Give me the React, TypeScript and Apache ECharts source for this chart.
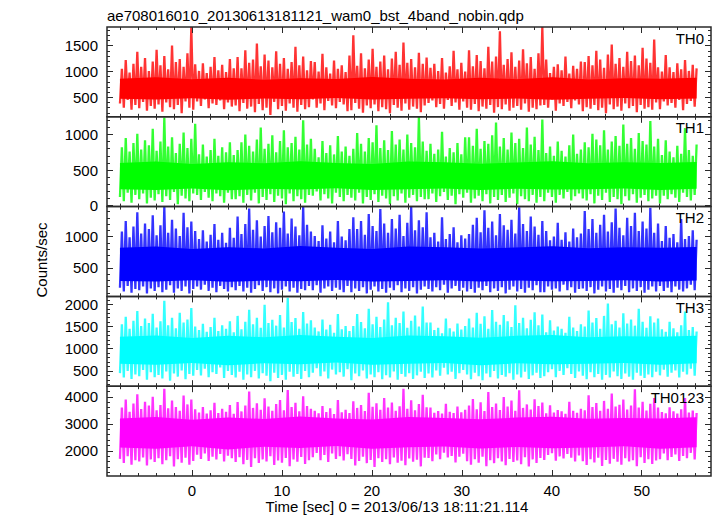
import React, { useEffect, useRef } from "react";
import * as echarts from "echarts";

const TITLE = "ae708016010_20130613181121_wam0_bst_4band_nobin.qdp";
const X_TITLE = "Time [sec] 0 = 2013/06/13 18:11:21.114";
const Y_TITLE = "Counts/sec";
const FONT = '"Liberation Sans", Arial, Helvetica, sans-serif';

const T_START = -8.0;
const T_END = 56.1;
const X_MIN = -9.44;
const X_MAX = 57.7;
const X_MAJOR = [0, 10, 20, 30, 40, 50];
const X_MINOR = [-8, -6, -4, -2, 0, 2, 4, 6, 8, 10, 12, 14, 16, 18, 20, 22, 24, 26, 28, 30, 32, 34, 36, 38, 40, 42, 44, 46, 48, 50, 52, 54, 56];

const NAMES = ["TH0", "TH1", "TH2", "TH3", "TH0123"];
const COLORS = ["#ff0000", "#00ff00", "#0000ff", "#00ffff", "#ff00ff"];
const Y_MIN = [122, -15, 42, 155, 1063];
const Y_MAX = [1861, 1250, 1480, 2180, 4396];
const Y_MAJOR = [
  [500, 1000, 1500],
  [0, 500, 1000],
  [500, 1000],
  [500, 1000, 1500, 2000],
  [2000, 3000, 4000],
];
const Y_MINOR_STEP = [100, 100, 100, 100, 200];

// Light-curve samples (alternating low / high excursions of the binned rates)
const TH0 = [
  380, 1050, 300, 1220, 450, 980, 260, 1150, 350, 1380, 290, 1090, 410, 1260, 240, 1010, 330, 1190, 280, 1420,
  360, 1120, 220, 1300, 400, 1040, 310, 1500, 270, 1180, 350, 1240, 190, 1090, 420, 1350, 300, 1860, 260, 1140,
  420, 1010, 330, 1160, 460, 970, 290, 1090, 380, 1280, 350, 1020, 440, 1130, 270, 990, 400, 1240, 320, 1060,
  340, 1280, 230, 1060, 390, 1410, 280, 1170, 320, 1230, 210, 1540, 370, 1100, 250, 1330, 300, 1210, 160, 1080,
  410, 1390, 270, 1150, 330, 1260, 240, 1050, 380, 1180, 300, 1480, 220, 1120, 350, 1290, 270, 1020, 310, 1200,
  460, 1180, 300, 1000, 380, 1340, 250, 1080, 430, 960, 340, 1210, 290, 1050, 410, 1120, 360, 990, 230, 1310,
  250, 1700, 390, 1110, 280, 1350, 200, 1060, 340, 1230, 290, 1440, 360, 1090, 230, 1190, 310, 1310, 270, 1040,
  190, 1250, 350, 1380, 300, 1130, 240, 1560, 380, 1170, 260, 1240, 320, 1080, 280, 1360, 210, 1150, 340, 1270,
  390, 1070, 440, 1150, 310, 1010, 370, 1260, 280, 980, 450, 1100, 330, 1400, 400, 1040, 260, 1170, 420, 1000,
  300, 1410, 260, 1100, 370, 1320, 230, 1200, 320, 1060, 280, 1480, 350, 1190, 200, 1290, 310, 1780, 270, 1130,
  360, 1240, 240, 1370, 300, 1090, 330, 1210, 260, 1430, 380, 1160, 220, 1280, 300, 1050, 270, 1350, 340, 1860,
  350, 1230, 300, 970, 460, 1090, 240, 1140, 380, 1020, 330, 1290, 410, 960, 290, 1110, 440, 1050, 360, 1190,
  230, 1180, 310, 1300, 280, 1120, 350, 1400, 250, 1230, 300, 1070, 190, 1330, 360, 1520, 270, 1150, 320, 1260,
  240, 1090, 380, 1380, 290, 1200, 330, 1310, 210, 1120, 350, 1460, 280, 1250, 310, 1170, 260, 1620, 400, 1080,
  270, 1000, 420, 1320, 340, 1080, 390, 990, 300, 1160, 450, 1040, 250, 1220, 370, 1010, 430, 1130, 320, 1060,
];
const TH1 = [
  120, 820, 60, 950, 180, 760, 40, 880, 150, 1010, 90, 790, 170, 920, 30, 850, 110, 1080, 70, 770,
  160, 900, 50, 1240, 130, 830, 80, 960, 190, 740, 20, 870, 140, 1030, 100, 810, 60, 940, 170, 1150,
  150, 720, 80, 860, 190, 690, 110, 780, 60, 940, 170, 700, 130, 820, 40, 750, 180, 890, 90, 710,
  90, 780, 130, 890, 40, 1000, 150, 840, 70, 760, 180, 930, 30, 1100, 120, 800, 80, 870, 160, 990,
  50, 750, 140, 910, 100, 1060, 20, 820, 170, 880, 60, 970, 130, 790, 90, 1200, 40, 860, 150, 940,
  140, 800, 200, 680, 70, 910, 160, 740, 100, 850, 30, 720, 180, 980, 120, 760, 60, 830, 150, 700,
  110, 800, 70, 1020, 180, 870, 30, 760, 120, 950, 80, 890, 160, 1130, 50, 810, 140, 920, 100, 780,
  20, 1050, 130, 860, 70, 930, 170, 790, 40, 1000, 110, 880, 150, 820, 60, 1250, 120, 900, 90, 770,
  90, 870, 170, 730, 50, 790, 130, 1040, 190, 690, 80, 810, 140, 750, 20, 880, 160, 720, 110, 960,
  180, 960, 40, 840, 100, 1080, 140, 800, 60, 910, 160, 870, 30, 990, 120, 1170, 80, 830, 150, 950,
  50, 790, 110, 1030, 170, 880, 20, 940, 130, 810, 90, 1100, 60, 860, 150, 970, 40, 780, 120, 1210,
  60, 740, 180, 830, 120, 700, 40, 900, 150, 770, 100, 690, 190, 850, 70, 1000, 130, 730, 170, 790,
  100, 890, 70, 820, 160, 1010, 30, 930, 140, 850, 80, 1060, 180, 790, 50, 900, 120, 980, 90, 840,
  20, 1140, 130, 870, 70, 950, 160, 800, 40, 1020, 110, 910, 150, 860, 60, 1190, 100, 830, 140, 940,
  30, 710, 140, 920, 90, 760, 160, 680, 110, 840, 50, 730, 180, 1090, 120, 780, 70, 700, 150, 860,
];
const TH2 = [
  180, 1080, 120, 1250, 210, 990, 100, 1160, 160, 1390, 140, 1050, 200, 1210, 90, 1120, 170, 1340, 130, 1020,
  190, 1180, 110, 1480, 150, 1060, 220, 1270, 100, 1130, 170, 1010, 130, 1380, 200, 1150, 90, 1240, 160, 1090,
  200, 960, 150, 1100, 230, 920, 130, 1030, 180, 1200, 110, 950, 210, 1060, 160, 900, 120, 1140, 190, 980,
  140, 1320, 210, 1040, 120, 1200, 180, 1450, 100, 1110, 160, 1260, 220, 1000, 130, 1170, 190, 1330, 110, 1070,
  170, 1230, 90, 1140, 150, 1400, 200, 1050, 120, 1290, 180, 1160, 100, 1020, 160, 1480, 140, 1190, 210, 1080,
  140, 1010, 220, 930, 100, 1180, 170, 970, 200, 1080, 130, 910, 180, 1250, 150, 1000, 110, 940, 210, 1120,
  110, 1310, 170, 1120, 130, 1250, 190, 1030, 90, 1360, 150, 1170, 200, 1090, 120, 1440, 160, 1210, 100, 1060,
  180, 1280, 140, 1130, 220, 1350, 110, 1010, 170, 1220, 130, 1480, 190, 1100, 90, 1260, 150, 1150, 200, 1390,
  160, 990, 120, 1060, 190, 920, 140, 1310, 230, 960, 100, 1040, 170, 1150, 210, 910, 130, 1020, 180, 970,
  120, 1040, 160, 1190, 100, 1300, 180, 1070, 140, 1420, 210, 1140, 110, 1240, 170, 1020, 130, 1360, 190, 1180,
  90, 1110, 150, 1270, 200, 1050, 120, 1470, 160, 1200, 100, 1090, 180, 1320, 140, 1160, 220, 1030, 110, 1250,
  110, 1090, 200, 940, 150, 1000, 170, 1220, 120, 950, 230, 1070, 140, 920, 190, 1130, 100, 990, 160, 1050,
  170, 1410, 130, 1120, 190, 1280, 90, 1060, 150, 1190, 200, 1350, 120, 1080, 160, 1230, 100, 1450, 180, 1140,
  140, 1020, 210, 1300, 110, 1170, 170, 1380, 130, 1090, 190, 1240, 100, 1130, 150, 1460, 200, 1060, 120, 1210,
  210, 930, 130, 1170, 180, 980, 110, 1040, 200, 910, 150, 1280, 120, 960, 170, 1010, 230, 1100, 140, 950,
];
const TH3 = [
  450, 1550, 350, 1720, 500, 1450, 320, 1630, 420, 1850, 380, 1510, 520, 1680, 300, 1580, 470, 1790, 360, 1480,
  410, 1620, 330, 2080, 490, 1530, 280, 1700, 440, 1460, 370, 1810, 510, 1590, 310, 1660, 430, 1920, 390, 1500,
  520, 1420, 400, 1560, 550, 1380, 360, 1490, 470, 1700, 430, 1400, 580, 1530, 340, 1450, 500, 1620, 410, 1370,
  350, 1740, 480, 1440, 300, 1610, 420, 1880, 360, 1550, 500, 1700, 330, 1470, 450, 1990, 390, 1580, 270, 1650,
  460, 1520, 340, 1760, 410, 1480, 300, 2150, 480, 1600, 370, 1690, 430, 1450, 320, 1830, 500, 1570, 360, 1640,
  460, 1480, 560, 1390, 380, 1660, 490, 1430, 330, 1540, 530, 1360, 420, 1780, 470, 1440, 370, 1510, 540, 1400,
  290, 1510, 440, 1780, 380, 1600, 510, 1460, 330, 1900, 420, 1550, 360, 1720, 470, 1490, 310, 1660, 400, 2050,
  350, 1530, 490, 1700, 300, 1580, 430, 1840, 370, 1470, 450, 1630, 320, 1750, 400, 1500, 480, 1950, 340, 1590,
  440, 1590, 350, 1420, 510, 1470, 390, 1350, 570, 1680, 420, 1460, 480, 1390, 320, 1570, 450, 1430, 520, 1510,
  420, 1680, 310, 1480, 460, 1810, 380, 1560, 290, 1730, 440, 1450, 360, 1870, 500, 1610, 330, 1540, 410, 1760,
  370, 1620, 450, 1490, 300, 1980, 420, 1580, 350, 1700, 480, 1460, 320, 1650, 400, 1820, 460, 1530, 340, 1770,
  380, 1370, 470, 1640, 540, 1410, 360, 1500, 500, 1450, 410, 1360, 560, 1720, 430, 1480, 340, 1400, 490, 1550,
  390, 1500, 310, 1860, 470, 1590, 360, 1690, 430, 1450, 300, 1740, 410, 2020, 350, 1550, 490, 1630, 380, 1480,
  320, 1800, 440, 1570, 370, 1660, 300, 1520, 460, 1900, 390, 1610, 340, 1470, 420, 1730, 360, 1590, 480, 1680,
  400, 1440, 530, 1380, 370, 1610, 460, 1460, 510, 1370, 350, 1530, 480, 1840, 420, 1420, 550, 1490, 390, 1390,
];
const TH0123 = [
  1700, 3600, 1550, 3900, 1800, 3450, 1480, 3750, 1650, 4100, 1600, 3550, 1750, 3820, 1450, 3680, 1680, 4000, 1580, 3500,
  1720, 3700, 1500, 4300, 1650, 3580, 1800, 3860, 1420, 3620, 1690, 3480, 1560, 4050, 1740, 3720, 1480, 3900, 1620, 3540,
  1850, 3420, 1700, 3620, 1900, 3380, 1620, 3500, 1780, 3780, 1680, 3400, 1880, 3560, 1600, 3450, 1820, 3700, 1720, 3370,
  1580, 3810, 1760, 3460, 1500, 3680, 1660, 4200, 1400, 3590, 1720, 3760, 1550, 3520, 1680, 3950, 1600, 3640, 1800, 3480,
  1470, 3730, 1640, 3880, 1560, 3500, 1730, 4250, 1430, 3620, 1680, 3780, 1590, 3460, 1770, 4020, 1510, 3660, 1650, 3560,
  1760, 3480, 1920, 3390, 1650, 3660, 1840, 3440, 1580, 3580, 1900, 3360, 1700, 3880, 1800, 3430, 1640, 3520, 1870, 3400,
  1700, 3840, 1450, 3590, 1620, 3700, 1780, 3470, 1540, 4150, 1660, 3630, 1400, 3760, 1720, 3520, 1580, 3960, 1690, 3600,
  1500, 3790, 1750, 3480, 1560, 3650, 1630, 4300, 1460, 3560, 1710, 3870, 1590, 3500, 1670, 3730, 1420, 4080, 1740, 3610,
  1730, 3600, 1610, 3410, 1860, 3470, 1690, 3380, 1930, 3740, 1750, 3450, 1810, 3400, 1570, 3640, 1780, 3430, 1890, 3520,
  1610, 3680, 1480, 3920, 1690, 3540, 1560, 3800, 1780, 3470, 1430, 4180, 1650, 3620, 1540, 3750, 1720, 3510, 1600, 3990,
  1460, 3640, 1700, 3860, 1580, 3480, 1640, 4240, 1500, 3590, 1760, 3720, 1420, 3530, 1680, 3910, 1550, 3660, 1730, 3790,
  1660, 3390, 1840, 3690, 1910, 3420, 1630, 3510, 1790, 3460, 1710, 3370, 1880, 3820, 1740, 3480, 1600, 3410, 1830, 3560,
  1610, 3500, 1470, 4060, 1690, 3620, 1570, 3770, 1740, 3480, 1440, 3850, 1660, 3560, 1520, 4120, 1700, 3640, 1590, 3710,
  1480, 3900, 1720, 3530, 1600, 3680, 1650, 4280, 1430, 3600, 1760, 3820, 1550, 3490, 1690, 3740, 1510, 3960, 1640, 3600,
  1690, 3440, 1900, 3390, 1650, 3610, 1770, 3460, 1860, 3380, 1620, 3540, 1810, 3960, 1720, 3420, 1920, 3490, 1680, 3400,
];

// Dense core of each light curve (lower / upper edge of the solid band)
const TH0_CORE_LO = [470, 455, 480, 450, 475, 460, 485, 455, 470, 480, 460, 475, 450, 470, 485, 460, 475];
const TH0_CORE_HI = [860, 890, 850, 880, 840, 870, 855, 895, 860, 845, 880, 850, 890, 845, 870, 860, 880];
const TH1_CORE_LO = [230, 220, 240, 215, 235, 225, 245, 220, 230, 240, 220, 235, 225, 230, 240, 220, 235];
const TH1_CORE_HI = [600, 620, 585, 610, 595, 625, 600, 585, 620, 610, 590, 605, 625, 595, 610, 600, 615];
const TH2_CORE_LO = [290, 280, 300, 275, 295, 285, 305, 280, 290, 300, 280, 295, 285, 290, 300, 280, 295];
const TH2_CORE_HI = [820, 840, 800, 830, 810, 850, 820, 800, 840, 830, 810, 825, 845, 815, 830, 820, 835];
const TH3_CORE_LO = [660, 640, 680, 630, 670, 650, 690, 640, 660, 680, 630, 670, 650, 660, 680, 640, 670];
const TH3_CORE_HI = [1270, 1300, 1240, 1290, 1260, 1310, 1270, 1240, 1300, 1280, 1250, 1290, 1310, 1260, 1280, 1270, 1290];
const TH0123_CORE_LO = [2120, 2070, 2170, 2050, 2150, 2100, 2180, 2070, 2130, 2160, 2080, 2140, 2090, 2120, 2170, 2070, 2130];
const TH0123_CORE_HI = [3200, 3250, 3150, 3230, 3180, 3270, 3200, 3160, 3250, 3220, 3170, 3230, 3260, 3190, 3220, 3200, 3240];

const SERIES = [TH0, TH1, TH2, TH3, TH0123];
const CORE_LO = [TH0_CORE_LO, TH1_CORE_LO, TH2_CORE_LO, TH3_CORE_LO, TH0123_CORE_LO];
const CORE_HI = [TH0_CORE_HI, TH1_CORE_HI, TH2_CORE_HI, TH3_CORE_HI, TH0123_CORE_HI];

const GRID_LEFT = 107;
const GRID_WIDTH = 604;
const GRID_TOP = 27;
const PANEL_H = 89.8;
const FRAME = "#2a2a2a";

function minorTicks(g: number): number[] {
  const step = Y_MINOR_STEP[g];
  const out: number[] = [];
  for (let v = Math.ceil(Y_MIN[g] / step) * step; v <= Y_MAX[g]; v += step) out.push(v);
  return out;
}

const plain = (v: number) => String(v);

function buildOption() {
  const grid: any[] = [];
  const xAxis: any[] = [];
  const yAxis: any[] = [];
  const series: any[] = [];
  const graphic: any[] = [];

  NAMES.forEach((name, g) => {
    const top = GRID_TOP + g * PANEL_H;
    grid.push({
      left: GRID_LEFT,
      width: GRID_WIDTH,
      top,
      height: PANEL_H,
      show: true,
      borderColor: FRAME,
      borderWidth: 1.5,
      backgroundColor: "transparent",
      containLabel: false,
      outerBoundsMode: "none",
      z: 5,
    });
    const mkX = (pos: string, vals: number[], len: number, labels: boolean) => ({
      type: "value",
      gridIndex: g,
      position: pos,
      min: X_MIN,
      max: X_MAX,
      axisLine: { show: false, onZero: false },
      axisTick: { show: true, inside: true, length: len, customValues: vals, lineStyle: { color: FRAME, width: 1 } },
      axisLabel: labels
        ? { show: true, customValues: X_MAJOR, formatter: plain, fontSize: 15, color: "#000", fontFamily: FONT, margin: 7 }
        : { show: false },
      splitLine: { show: false },
      z: 6,
    });
    xAxis.push(mkX("bottom", X_MAJOR, 6, g === NAMES.length - 1));
    xAxis.push(mkX("bottom", X_MINOR, 3, false));
    xAxis.push(mkX("top", X_MAJOR, 6, false));
    xAxis.push(mkX("top", X_MINOR, 3, false));

    const mkY = (pos: string, vals: number[], len: number, labels: boolean) => ({
      type: "value",
      gridIndex: g,
      position: pos,
      min: Y_MIN[g],
      max: Y_MAX[g],
      axisLine: { show: false, onZero: false },
      axisTick: { show: true, inside: true, length: len, customValues: vals, lineStyle: { color: FRAME, width: 1 } },
      axisLabel: labels
        ? { show: true, customValues: Y_MAJOR[g], formatter: plain, fontSize: 15, color: "#000", fontFamily: FONT, margin: 9 }
        : { show: false },
      splitLine: { show: false },
      z: 6,
    });
    const minors = minorTicks(g);
    yAxis.push(mkY("left", Y_MAJOR[g], 6, true));
    yAxis.push(mkY("left", minors, 3, false));
    yAxis.push(mkY("right", Y_MAJOR[g], 6, false));
    yAxis.push(mkY("right", minors, 3, false));

    const color = COLORS[g];
    const lo = CORE_LO[g];
    const hi = CORE_HI[g];
    const nb = lo.length;
    const bandT = lo.map((_, k) => T_START + (k * (T_END - T_START)) / (nb - 1));
    series.push({
      type: "custom",
      xAxisIndex: g * 4,
      yAxisIndex: g * 4,
      silent: true,
      z: 2,
      data: [[T_START, Y_MIN[g]]],
      renderItem: (_params: any, api: any) => {
        const pts: number[][] = [];
        for (let k = 0; k < nb; k++) pts.push(api.coord([bandT[k], hi[k]]));
        for (let k = nb - 1; k >= 0; k--) pts.push(api.coord([bandT[k], lo[k]]));
        return { type: "polygon", shape: { points: pts }, style: { fill: color } };
      },
    });
    const vals = SERIES[g];
    const n = vals.length;
    series.push({
      type: "line",
      xAxisIndex: g * 4,
      yAxisIndex: g * 4,
      silent: true,
      z: 3,
      showSymbol: false,
      symbol: "none",
      data: vals.map((v, i) => [T_START + (i * (T_END - T_START)) / (n - 1), v]),
      lineStyle: { color, width: 2.3, opacity: 0.8 },
      itemStyle: { color },
    });

    graphic.push({
      type: "text",
      x: 704,
      y: top + 11,
      z: 100,
      style: { text: name, fill: "#000", font: `15px ${FONT}`, align: "right", textAlign: "right", verticalAlign: "middle", textVerticalAlign: "middle" },
    });
  });

  graphic.push({
    type: "text",
    x: 107,
    y: 15,
    z: 100,
    style: { text: TITLE, fill: "#000", font: `15px ${FONT}`, align: "left", textAlign: "left", verticalAlign: "middle", textVerticalAlign: "middle" },
  });
  graphic.push({
    type: "text",
    x: 397,
    y: 506,
    z: 100,
    style: { text: X_TITLE, fill: "#000", font: `15px ${FONT}`, align: "center", textAlign: "center", verticalAlign: "middle", textVerticalAlign: "middle" },
  });
  graphic.push({
    type: "text",
    x: 41,
    y: 260,
    rotation: Math.PI / 2,
    z: 100,
    style: { text: Y_TITLE, fill: "#000", font: `15px ${FONT}`, align: "center", textAlign: "center", verticalAlign: "middle", textVerticalAlign: "middle" },
  });

  return {
    animation: false,
    backgroundColor: "#ffffff",
    grid,
    xAxis,
    yAxis,
    series,
    graphic,
  };
}

export default function App() {
  const ref = useRef<HTMLDivElement>(null);
  useEffect(() => {
    if (!ref.current) return;
    const chart = echarts.init(ref.current, undefined, { renderer: "svg" });
    chart.setOption(buildOption() as any);
    return () => chart.dispose();
  }, []);
  return (
    <div
      ref={ref}
      style={{ position: "fixed", left: 0, top: 0, width: 717, height: 516, background: "#fff" }}
    />
  );
}
